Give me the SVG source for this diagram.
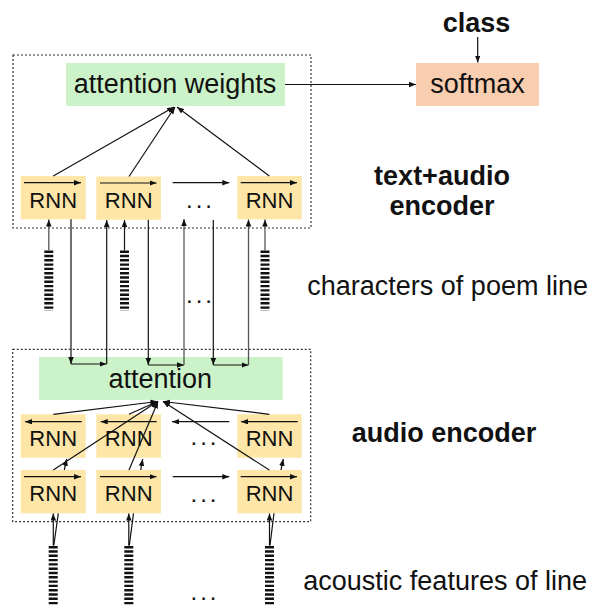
<svg xmlns="http://www.w3.org/2000/svg" width="592" height="606" viewBox="0 0 592 606">
<style>
.frame{fill:none;stroke:#333;stroke-width:1.2;stroke-dasharray:2 2}
.rnn{fill:#fde6a7}
.grn{fill:#ccf2c9}
.sm{fill:#f9cdb0}
.t{font-family:"Liberation Sans",Arial,sans-serif;fill:#111}
.big{font-size:27px}
.mid{font-size:22px}
.b{font-weight:bold}
.c{text-anchor:middle}
.dots{font-family:"Liberation Sans",Arial,sans-serif;font-size:24px;letter-spacing:3px;fill:#111}
.ln{stroke:#111;stroke-width:1.2;fill:none}
.ga{stroke:#555;stroke-width:1.3;fill:none}
.ar{marker-end:url(#ah)}
.bar{stroke:#111;stroke-width:9;stroke-dasharray:2.4 1.9}
</style>
<defs>
<marker id="ah" markerUnits="userSpaceOnUse" markerWidth="8" markerHeight="6" refX="7" refY="2.75" orient="auto">
<path d="M0,0 L7,2.75 L0,5.5 z" fill="#111"/>
</marker>
</defs>

<rect class="frame" x="13" y="55" width="298" height="173"/>
<rect class="frame" x="12.7" y="349.3" width="298" height="172.4"/>

<g id="class"><text class="t big b c" x="476.5" y="32">class</text></g>
<g id="softmax"><rect class="sm" x="416" y="63" width="123" height="43"/><text class="t big c" x="477.5" y="93.3">softmax</text></g>
<g id="attention-weights"><rect class="grn" x="66" y="63" width="219" height="43"/><text class="t big c" x="175" y="93">attention weights</text></g>
<g id="label-textaudio"><text class="t big b c" x="442" y="185">text+audio</text><text class="t big b c" x="442" y="215">encoder</text></g>
<g id="label-chars"><text class="t big" x="307.3" y="295">characters of poem line</text></g>
<g id="label-audio"><text class="t big b" x="351.7" y="441.7">audio encoder</text></g>
<g id="label-acoustic"><text class="t big" x="303.3" y="590">acoustic features of line</text></g>

<g id="attention"><rect class="grn" x="39" y="357" width="243.7" height="43"/><text class="t big c" x="160.3" y="387.7">attention</text></g>

<g id="ta-rnn1"><rect class="rnn" x="20.7" y="176" width="65" height="43.3"/><text class="t mid c" x="53.2" y="207.7">RNN</text></g>
<g id="ta-rnn2"><rect class="rnn" x="96.3" y="176.5" width="64.7" height="43.3"/><text class="t mid c" x="128.7" y="208">RNN</text></g>
<g id="ta-rnn3"><rect class="rnn" x="237.3" y="176" width="64.4" height="43.3"/><text class="t mid c" x="269.5" y="207.7">RNN</text></g>
<g id="ta-dots"><text class="dots" x="186" y="208">...</text></g>
<g id="chars-dots"><text class="dots" x="186" y="303.3">...</text></g>

<g id="char-bar1"><line class="bar" x1="48.8" y1="250.5" x2="48.8" y2="311"/></g>
<g id="char-bar2"><line class="bar" x1="124.5" y1="250.5" x2="124.5" y2="311"/></g>
<g id="char-bar3"><line class="bar" x1="265" y1="250.5" x2="265" y2="311"/></g>

<g id="connectors">
<line class="ln ar" x1="285" y1="84.5" x2="416" y2="84.5"/>
<line class="ln ar" x1="477.7" y1="37" x2="477.7" y2="62.5"/>
<line class="ln ar" x1="53.3" y1="176" x2="174" y2="107"/>
<line class="ln ar" x1="129" y1="176.5" x2="175" y2="107"/>
<line class="ln ar" x1="269.3" y1="176" x2="177" y2="107"/>
<line class="ln ar" x1="24" y1="182.7" x2="81" y2="182.7"/>
<line class="ln ar" x1="100" y1="183" x2="156.5" y2="183"/>
<line class="ln ar" x1="172.7" y1="182.7" x2="229.3" y2="182.7"/>
<line class="ln ar" x1="240.7" y1="182.7" x2="297" y2="182.7"/>
<line class="ga ar" x1="48.8" y1="250.5" x2="48.8" y2="219.5"/>
<line class="ln ar" x1="124.5" y1="250.5" x2="124.5" y2="220"/>
<line class="ga ar" x1="265" y1="250.5" x2="265" y2="219.5"/>
<line class="ln ar" x1="71" y1="219.3" x2="71" y2="364"/>
<line class="ln ar" x1="71" y1="364" x2="106.5" y2="364"/>
<line class="ln ar" x1="106.7" y1="364" x2="106.7" y2="220"/>
<line class="ln ar" x1="148.3" y1="219.8" x2="148.3" y2="365"/>
<line class="ln ar" x1="148.3" y1="365" x2="184" y2="365"/>
<line class="ga ar" x1="184" y1="365" x2="184" y2="219"/>
<line class="ln ar" x1="213.3" y1="220" x2="213.3" y2="365"/>
<line class="ln ar" x1="213.3" y1="365" x2="248.5" y2="365"/>
<line class="ga ar" x1="248.5" y1="365" x2="248.5" y2="219.5"/>
</g>

<g id="au-b-rnn1"><rect class="rnn" x="20.7" y="414.3" width="65" height="43.4"/><text class="t mid c" x="53.2" y="446">RNN</text></g>
<g id="au-b-rnn2"><rect class="rnn" x="96.3" y="414.3" width="64.7" height="43.4"/><text class="t mid c" x="128.7" y="446">RNN</text></g>
<g id="au-b-rnn3"><rect class="rnn" x="237.3" y="414.3" width="64.4" height="43.4"/><text class="t mid c" x="269.5" y="446">RNN</text></g>
<g id="au-b-dots"><text class="dots" x="190.5" y="445">...</text></g>

<g id="au-f-rnn1"><rect class="rnn" x="20.7" y="470" width="65" height="43.3"/><text class="t mid c" x="53.2" y="501">RNN</text></g>
<g id="au-f-rnn2"><rect class="rnn" x="96.3" y="470" width="64.7" height="43.3"/><text class="t mid c" x="128.7" y="501">RNN</text></g>
<g id="au-f-rnn3"><rect class="rnn" x="237.3" y="470" width="64.4" height="43.3"/><text class="t mid c" x="269.5" y="501">RNN</text></g>
<g id="au-f-dots"><text class="dots" x="190.5" y="501.7">...</text></g>
<g id="feat-dots"><text class="dots" x="190.5" y="600">...</text></g>

<g id="feat-bar1"><line class="bar" x1="53.2" y1="546" x2="53.2" y2="608"/></g>
<g id="feat-bar2"><line class="bar" x1="128.8" y1="546" x2="128.8" y2="608"/></g>
<g id="feat-bar3"><line class="bar" x1="269.5" y1="546" x2="269.5" y2="608"/></g>

<g id="connectors-audio">
<line class="ln ar" x1="81.7" y1="421.7" x2="25" y2="421.7"/>
<line class="ln ar" x1="156.7" y1="421.7" x2="100.7" y2="421.7"/>
<line class="ln ar" x1="229.3" y1="421.7" x2="172" y2="421.7"/>
<line class="ln ar" x1="297.7" y1="421.7" x2="241" y2="421.7"/>
<line class="ln ar" x1="24" y1="476.7" x2="81" y2="476.7"/>
<line class="ln ar" x1="100" y1="476.7" x2="156.5" y2="476.7"/>
<line class="ln ar" x1="172.7" y1="476.7" x2="229.3" y2="476.7"/>
<line class="ln ar" x1="240.7" y1="476.7" x2="297" y2="476.7"/>
<line class="ln ar" x1="53.3" y1="414.3" x2="157.5" y2="401.5"/>
<line class="ln ar" x1="129" y1="414.3" x2="157.5" y2="401.5"/>
<line class="ln ar" x1="269.3" y1="414.3" x2="163" y2="401.5"/>
<line class="ln ar" x1="53.3" y1="470" x2="157.5" y2="401.5"/>
<line class="ln ar" x1="129" y1="470" x2="158" y2="401.5"/>
<line class="ln ar" x1="269.3" y1="470" x2="163" y2="401.5"/>
<line class="ln ar" x1="64.3" y1="470" x2="66.7" y2="459"/>
<line class="ln ar" x1="140.7" y1="470" x2="142.7" y2="459"/>
<line class="ln ar" x1="281" y1="470" x2="283.3" y2="459"/>
<line class="ln ar" x1="53.3" y1="545.5" x2="53.3" y2="513.5"/>
<line class="ln" x1="53.8" y1="545.5" x2="58.3" y2="513.3"/>
<line class="ln ar" x1="128.8" y1="545.5" x2="128.8" y2="513.5"/>
<line class="ln" x1="129.3" y1="545.5" x2="133.5" y2="513.3"/>
<line class="ln ar" x1="269.5" y1="545.5" x2="269.5" y2="513.5"/>
<line class="ln" x1="270" y1="545.5" x2="274" y2="513.3"/>
</g>
</svg>
